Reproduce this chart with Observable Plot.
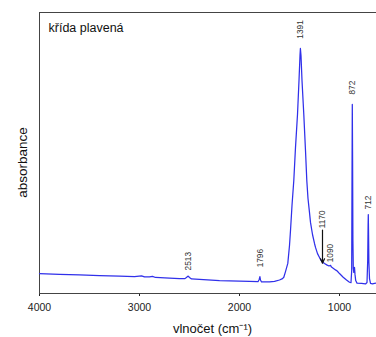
<!DOCTYPE html>
<html>
<head>
<meta charset="utf-8">
<script src="https://cdn.jsdelivr.net/npm/d3@7"></script>
<script src="https://cdn.jsdelivr.net/npm/@observablehq/plot@0.6"></script>
<style>
  html, body { margin: 0; padding: 0; background: #fff; }
  #wrap { width: 376px; height: 337px; overflow: hidden; }
</style>
</head>
<body>
<div id="wrap"></div>
<script>
// IR spectrum of "křída plavená"
const wavenumber = [4000, 3800, 3600, 3400, 3200, 3050, 2980, 2950, 2900, 2870, 2840, 2700, 2600, 2545, 2525, 2513, 2500, 2480, 2400, 2200, 2000, 1900, 1815, 1803, 1796, 1790, 1780, 1700, 1650, 1600, 1570, 1557, 1540, 1517, 1500, 1490, 1475, 1457, 1440, 1420, 1405, 1395, 1391, 1385, 1375, 1357, 1340, 1327, 1315, 1300, 1290, 1270, 1250, 1240, 1220, 1200, 1190, 1170, 1150, 1123, 1105, 1090, 1080, 1060, 1040, 1023, 1000, 963, 930, 900, 885, 878, 875, 872, 869, 866, 862, 857, 850, 845, 838, 825, 780, 740, 725, 718, 714, 712, 710, 706, 700, 690, 670, 650, 620, 560];
const absorbance = [0.071, 0.068, 0.066, 0.064, 0.062, 0.060, 0.063, 0.059, 0.059, 0.061, 0.057, 0.055, 0.053, 0.053, 0.059, 0.062, 0.057, 0.052, 0.050, 0.046, 0.044, 0.043, 0.042, 0.050, 0.060, 0.048, 0.041, 0.041, 0.043, 0.048, 0.053, 0.058, 0.078, 0.107, 0.171, 0.224, 0.313, 0.402, 0.520, 0.637, 0.758, 0.847, 0.872, 0.847, 0.758, 0.637, 0.509, 0.402, 0.338, 0.288, 0.253, 0.210, 0.178, 0.164, 0.142, 0.128, 0.121, 0.112, 0.107, 0.101, 0.098, 0.100, 0.094, 0.089, 0.084, 0.080, 0.071, 0.058, 0.048, 0.040, 0.039, 0.082, 0.402, 0.673, 0.473, 0.189, 0.089, 0.075, 0.093, 0.068, 0.046, 0.037, 0.036, 0.034, 0.039, 0.117, 0.242, 0.281, 0.231, 0.110, 0.053, 0.036, 0.034, 0.036, 0.037, 0.039];

const peakWn = [2513, 1796, 1391, 1170, 1090, 872, 712];
const peakLabelY = [0.082, 0.093, 0.907, 0.232, 0.111, 0.708, 0.299];

const arrowWn = [1170];
const arrowFrom = [0.226];
const arrowTo = [0.108];

const xTicks = [4000, 3000, 2000, 1000];
const title = "křída plavená";
const xLabel = "vlnočet (cm⁻¹)";
const yLabel = "absorbance";

const spectrum = wavenumber.map((w, i) => ({w, a: absorbance[i]}));
const peaks = peakWn.map((w, i) => ({w, y: peakLabelY[i], t: String(w)}));
const arrows = arrowWn.map((w, i) => ({w, y1: arrowFrom[i], y2: arrowTo[i]}));

const chart = Plot.plot({
  width: 385,
  height: 337,
  marginLeft: 39,
  marginRight: 0,
  marginTop: 12,
  marginBottom: 44,
  style: {fontFamily: "'Liberation Sans', Arial, sans-serif", fontSize: "10.5px", color: "#222", background: "#fff"},
  x: {domain: [4000, 540], ticks: xTicks, tickFormat: d3.format("d"), tickSize: 3, tickPadding: 7, label: null},
  y: {domain: [0, 1], axis: null},
  marks: [
    Plot.frame({stroke: "#444"}),
    Plot.line(spectrum, {x: "w", y: "a", stroke: "#3030ea", strokeWidth: 1.25}),
    Plot.text(peaks, {x: "w", y: "y", text: "t", rotate: -90, textAnchor: "start", lineAnchor: "middle", fontSize: 8.3, fill: "#333"}),
    Plot.arrow(arrows, {x1: "w", x2: "w", y1: "y1", y2: "y2", stroke: "#111", strokeWidth: 1.2, headLength: 6, headAngle: 50}),
    Plot.text([title], {frameAnchor: "top-left", dx: 9, dy: 11, textAnchor: "start", lineAnchor: "top", fontSize: 12.5, fill: "#111"}),
    Plot.text([xLabel], {frameAnchor: "bottom", dy: 35, lineAnchor: "middle", fontSize: 13, fill: "#111"}),
    Plot.text([yLabel], {frameAnchor: "left", dx: -17, dy: 9.5, rotate: -90, textAnchor: "middle", lineAnchor: "middle", fontSize: 13.5, fill: "#111"})
  ]
});
chart.style.maxWidth = "none";
document.getElementById("wrap").appendChild(chart);
</script>
</body>
</html>
